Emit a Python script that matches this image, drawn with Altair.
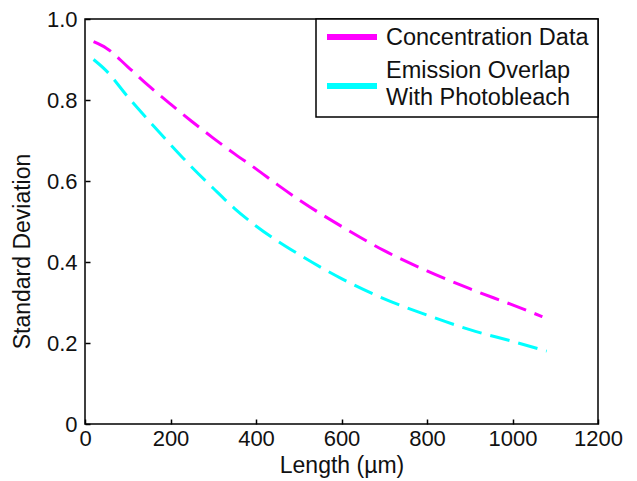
import altair as alt
import pandas as pd

series_names = ["Concentration Data", "Emission Overlap With Photobleach"]
legend_lines = [["Concentration Data"], ["Emission Overlap", "With Photobleach"]]
series_colors = ["#ff00ff", "#00ffff"]

conc_x = [20, 50, 100, 150, 200, 250, 300, 350, 400, 450, 500, 600, 700, 800, 900, 1000, 1070]
conc_y = [0.944, 0.928, 0.882, 0.834, 0.790, 0.747, 0.706, 0.667, 0.630, 0.591, 0.554,
          0.488, 0.428, 0.378, 0.334, 0.294, 0.265]

emis_x = [20, 50, 100, 150, 200, 250, 300, 350, 400, 450, 500, 600, 700, 800, 900, 1000, 1080]
emis_y = [0.900, 0.872, 0.808, 0.748, 0.690, 0.634, 0.582, 0.532, 0.489, 0.452, 0.419,
          0.359, 0.309, 0.269, 0.233, 0.204, 0.180]

x_ticks = [0, 200, 400, 600, 800, 1000, 1200]
y_ticks = [0, 0.2, 0.4, 0.6, 0.8, 1.0]

df = pd.concat([
    pd.DataFrame({"x": conc_x, "y": conc_y, "series": series_names[0]}),
    pd.DataFrame({"x": emis_x, "y": emis_y, "series": series_names[1]}),
])

FONT = "Liberation Sans"
TICK_FS = 22
TITLE_FS = 23
LEG_FS = 23.5

lines = alt.Chart(df).mark_line(
    strokeWidth=3, strokeDash=[20, 9], interpolate="monotone"
).encode(
    x=alt.X("x:Q", scale=alt.Scale(domain=[0, 1200], nice=False),
            axis=alt.Axis(title="Length (µm)", values=x_ticks, format="d",
                          domain=False, grid=False, offset=-5, tickSize=5,
                          tickWidth=1.5, tickColor="black", labelPadding=4,
                          labelFlush=False, titlePadding=5)),
    y=alt.Y("y:Q", scale=alt.Scale(domain=[0, 1], nice=False),
            axis=alt.Axis(title="Standard Deviation", values=y_ticks,
                          labelExpr="datum.value == 0 ? '0' : format(datum.value, '.1f')",
                          domain=False, grid=False, offset=-5, tickSize=5,
                          tickWidth=1.5, tickColor="black", labelPadding=8,
                          titlePadding=12, titleY=232)),
    color=alt.Color("series:N", scale=alt.Scale(domain=series_names, range=series_colors),
                    legend=None),
)

one = alt.Data(values=[{}])

# legend box (top-right, flush with the frame)
legend_box = alt.Chart(one).mark_rect(
    fill="white", stroke="black", strokeWidth=1.5
).encode(x=alt.value(231), x2=alt.value(513), y=alt.value(0), y2=alt.value(98))

leg_sym1 = alt.Chart(one).mark_rule(color=series_colors[0], strokeWidth=6).encode(
    x=alt.value(242), x2=alt.value(292), y=alt.value(18))
leg_sym2 = alt.Chart(one).mark_rule(color=series_colors[1], strokeWidth=6).encode(
    x=alt.value(242), x2=alt.value(292), y=alt.value(67))

leg_txt1 = alt.Chart(one).mark_text(
    align="left", baseline="middle", font=FONT, fontSize=LEG_FS, color="#111",
    text=legend_lines[0]
).encode(x=alt.value(301), y=alt.value(19))
leg_txt2 = alt.Chart(one).mark_text(
    align="left", baseline="middle", font=FONT, fontSize=LEG_FS, color="#111",
    lineHeight=27, text=legend_lines[1]
).encode(x=alt.value(301), y=alt.value(52))

chart = alt.layer(
    lines, legend_box, leg_sym1, leg_sym2, leg_txt1, leg_txt2
).properties(
    width=513, height=405,
    autosize="none",
    padding={"left": 85, "top": 19, "right": 39, "bottom": 57},
).configure_view(
    stroke="black", strokeWidth=1.5
).configure_axis(
    labelFont=FONT, labelFontSize=TICK_FS, labelColor="#111",
    titleFont=FONT, titleFontSize=TITLE_FS, titleColor="#111", titleFontWeight="normal",
)

chart.save("out.html", embed_options={"renderer": "svg", "actions": False})
